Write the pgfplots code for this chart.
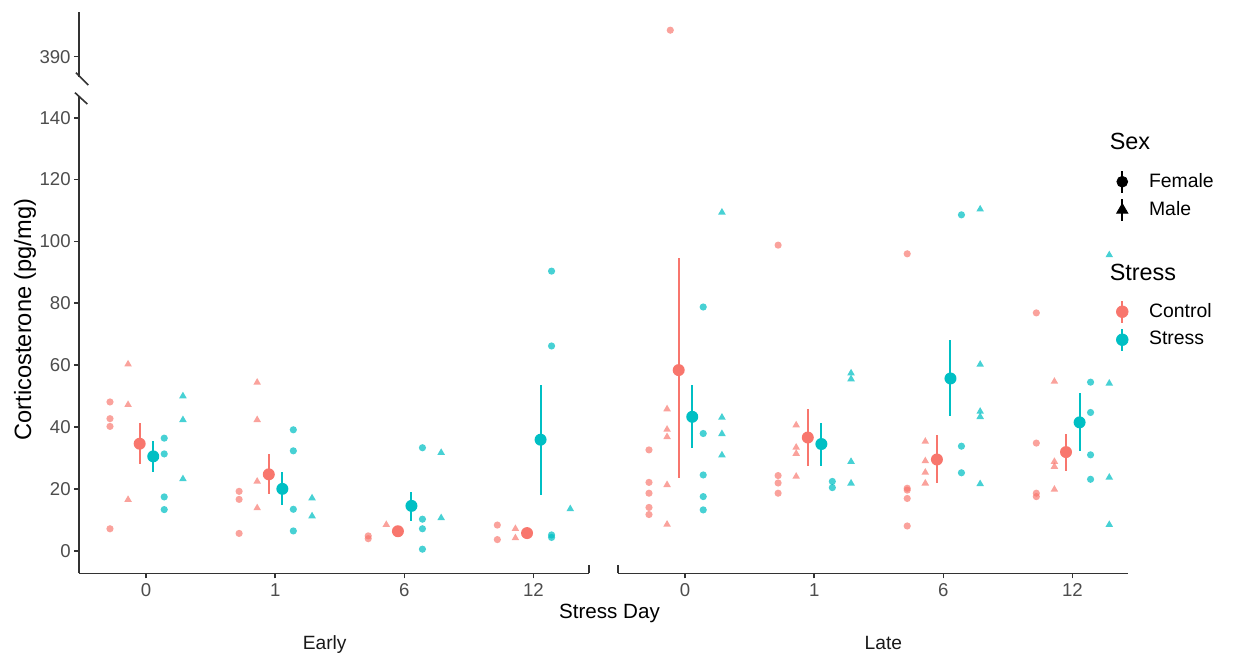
\documentclass[border=0pt]{standalone}
\usepackage{pgfplots}
\pgfplotsset{compat=1.18}
\usepackage{pgfplotstable}
\usepackage{fontspec}
\setmainfont{Liberation Sans}
\definecolor{ctrl}{HTML}{F8766D}
\definecolor{strs}{HTML}{00BFC4}
\definecolor{axgray}{HTML}{333333}
\definecolor{tickgray}{HTML}{4D4D4D}

% ---------- Early ----------
\pgfplotstableread{
x y
-0.28 48.1
-0.28 42.7
-0.28 40.2
-0.28 7.1
0.72 19.2
0.72 16.6
0.72 5.6
1.72 4.8
1.72 3.9
2.72 8.3
2.72 3.6
}\ECF
\pgfplotstableread{
x y
-0.14 60.3
-0.14 47.2
-0.14 16.5
0.86 54.4
0.86 42.3
0.86 22.4
0.86 13.8
1.86 8.4
2.86 7.1
2.86 4.1
}\ECM
\pgfplotstableread{
x y
0.14 36.4
0.14 31.3
0.14 17.4
0.14 13.3
1.14 39.1
1.14 32.3
1.14 13.4
1.14 6.4
2.14 33.3
2.14 10.2
2.14 7.1
2.14 0.5
3.14 90.4
3.14 66.2
3.14 5.1
3.14 4.3
}\ESF
\pgfplotstableread{
x y
0.285 50.0
0.285 42.3
0.285 23.2
1.285 17.0
1.285 11.2
2.285 31.7
2.285 10.6
3.285 13.5
}\ESM
\pgfplotstableread{
x y ep em
-0.05 34.6 6.6 6.5
0.95 24.7 6.6 6.3
1.95 6.3 0.8 0.8
2.95 5.7 0.7 0.7
}\ECmean
\pgfplotstableread{
x y ep em
0.055 30.5 4.9 4.9
1.055 20.0 5.4 5.1
2.055 14.5 4.6 4.8
3.055 35.9 17.6 17.9
}\ESmean

% ---------- Late ----------
\pgfplotstableread{
x y
-0.28 32.6
-0.28 22.1
-0.28 18.6
-0.28 14.0
-0.28 11.7
0.72 98.8
0.72 24.3
0.72 21.9
0.72 18.6
1.72 96.0
1.72 20.2
1.72 19.6
1.72 16.9
1.72 8.0
2.72 76.9
2.72 34.8
2.72 18.6
2.72 17.5
}\LCF
\pgfplotstableread{
x y
-0.115 398.6
}\LCFhigh
\pgfplotstableread{
x y
-0.14 45.8
-0.14 39.2
-0.14 36.8
-0.14 21.3
-0.14 8.5
0.86 40.6
0.86 33.4
0.86 31.4
0.86 24.0
1.86 35.3
1.86 29.0
1.86 25.3
1.86 21.8
2.86 54.7
2.86 28.8
2.86 27.2
2.86 19.8
}\LCM
\pgfplotstableread{
x y
0.14 78.8
0.14 37.9
0.14 24.5
0.14 17.5
0.14 13.2
1.14 22.4
1.14 20.4
2.14 108.6
2.14 33.8
2.14 25.2
3.14 54.5
3.14 44.7
3.14 31.0
3.14 23.1
}\LSF
\pgfplotstableread{
x y
0.285 109.4
0.285 43.1
0.285 37.8
0.285 30.9
1.285 57.4
1.285 55.5
1.285 28.8
1.285 21.8
2.285 110.4
2.285 60.2
2.285 45.0
2.285 43.3
2.285 21.6
3.285 95.6
3.285 54.1
3.285 23.7
3.285 8.4
}\LSM
\pgfplotstableread{
x y ep em
-0.05 58.4 36.1 34.9
0.95 36.6 9.1 9.3
1.95 29.5 7.8 7.6
2.95 31.9 5.9 6.0
}\LCmean
\pgfplotstableread{
x y ep em
0.055 43.3 10.2 10.1
1.055 34.5 6.8 7.0
2.055 55.7 12.3 12.3
3.055 41.5 9.6 9.3
}\LSmean

\pgfplotsset{
  base/.style={scale only axis, width=255pt, clip=false, xmin=-0.52, xmax=3.43,
    axis line style={axgray, line width=0.8pt},
    tick style={axgray, line width=0.8pt},
    tick align=outside, major tick length=2.5pt,
    ticklabel style={font=\fontsize{9.3}{11}\selectfont, text=tickgray},
    yticklabel style={inner sep=1.5pt},
    xticklabel style={inner sep=2.5pt},
    /pgf/number format/assume math mode=true,
    xtick={0,1,2,3}, xticklabels={0,1,6,12},
    legend cell align=left,
  },
  low/.style={height=238.15pt, ymin=-7.3, ymax=146.7},
  up/.style={height=32.5pt, ymin=383.4, ymax=404.5},
  indC/.style={only marks, forget plot, mark options={fill=ctrl, draw opacity=0, fill opacity=0.68}},
  indS/.style={only marks, forget plot, mark options={fill=strs, draw opacity=0, fill opacity=0.72}},
  fem/.style={mark=*, mark size=1.8pt},
  mal/.style={mark=triangle*, mark size=2.2pt},
  meanC/.style={only marks, forget plot, color=ctrl, mark=*, mark size=3pt,
    mark options={fill=ctrl, draw opacity=0},
    error bars/.cd, y dir=both, y explicit, error mark=none,
    error bar style={line width=1pt, ctrl}},
  meanS/.style={only marks, forget plot, color=strs, mark=*, mark size=3pt,
    mark options={fill=strs, draw opacity=0},
    error bars/.cd, y dir=both, y explicit, error mark=none,
    error bar style={line width=1pt, strs}},
  leg/.style={legend style={draw=none, fill=none, inner sep=0pt, outer sep=0pt,
    column sep=0pt, row sep=1.6pt, font=\fontsize{9.7}{11}\selectfont, anchor=north west}},
}

\begin{document}
\begin{tikzpicture}
\path[use as bounding box] (0,0) rectangle (616.5pt,327.5pt);

% Early, lower
\begin{axis}[base, low, leg, at={(39.5pt,40.85pt)}, anchor=south west,
  axis x line*=bottom, axis y line*=left, ytick={0,20,...,140},
  legend style={at={(2.026,0.8484)}}]
\addplot[indC, fem] table[x=x,y=y] {\ECF};
\addplot[indC, mal] table[x=x,y=y] {\ECM};
\addplot[indS, fem] table[x=x,y=y] {\ESF};
\addplot[indS, mal] table[x=x,y=y] {\ESM};
\addplot[meanC] table[x=x,y=y,y error plus=ep,y error minus=em] {\ECmean};
\addplot[meanS] table[x=x,y=y,y error plus=ep,y error minus=em] {\ESmean};
\addlegendimage{legend image code/.code={
  \path[draw=none, fill=none] (-5pt,-5.4pt) rectangle (11.4pt,5.4pt);
  \draw[black, line width=1pt] (0pt,-5.4pt) -- (0pt,5.4pt);
  \fill[black] (0pt,0pt) circle (2.7pt);}}
\addlegendentry{Female}
\addlegendimage{legend image code/.code={
  \path[draw=none, fill=none] (-5pt,-5.4pt) rectangle (11.4pt,5.4pt);
  \draw[black, line width=1pt] (0pt,-5.4pt) -- (0pt,5.4pt);
  \fill[black] (0pt,3.2pt) -- (-2.8pt,-1.6pt) -- (2.8pt,-1.6pt) -- cycle;}}
\addlegendentry{Male}
\end{axis}

% Early, upper
\begin{axis}[base, up, at={(39.5pt,289pt)}, anchor=south west,
  axis x line=none, axis y line*=left, ytick={390}]
\addplot[indC, fem, draw=none] coordinates {(-10,390)};
\end{axis}

% Late, lower
\begin{axis}[base, low, leg, at={(309pt,40.85pt)}, anchor=south west,
  axis y line=none, axis x line*=bottom,
  legend style={at={(0.9692,0.5755)}}]
\addplot[indC, fem] table[x=x,y=y] {\LCF};
\addplot[indC, mal] table[x=x,y=y] {\LCM};
\addplot[indS, fem] table[x=x,y=y] {\LSF};
\addplot[indS, mal] table[x=x,y=y] {\LSM};
\addplot[meanC] table[x=x,y=y,y error plus=ep,y error minus=em] {\LCmean};
\addplot[meanS] table[x=x,y=y,y error plus=ep,y error minus=em] {\LSmean};
\addlegendimage{legend image code/.code={
  \path[draw=none, fill=none] (-5pt,-5.4pt) rectangle (11.4pt,5.4pt);
  \draw[ctrl, line width=1pt] (0pt,-5.4pt) -- (0pt,5.4pt);
  \fill[ctrl] (0pt,0pt) circle (2.9pt);}}
\addlegendentry{Control}
\addlegendimage{legend image code/.code={
  \path[draw=none, fill=none] (-5pt,-5.4pt) rectangle (11.4pt,5.4pt);
  \draw[strs, line width=1pt] (0pt,-5.4pt) -- (0pt,5.4pt);
  \fill[strs] (0pt,0pt) circle (2.9pt);}}
\addlegendentry{Stress}
\end{axis}

% Late, upper
\begin{axis}[base, up, at={(309pt,289pt)}, anchor=south west, hide axis]
\addplot[indC, fem] table[x=x,y=y] {\LCFhigh};
\end{axis}

% axis break marks and panel end caps
\draw[axgray, line width=0.8pt] (38pt,291.15pt) -- (44.15pt,285pt);
\draw[axgray, line width=0.8pt] (37.5pt,281.15pt) -- (43.65pt,275.5pt);
\draw[axgray, line width=0.8pt] (294.5pt,40.85pt) -- (294.5pt,45pt);
\draw[axgray, line width=0.8pt] (309pt,40.85pt) -- (309pt,45pt);

% titles
\node[rotate=90, font=\fontsize{11.8}{13}\selectfont, inner sep=0pt] at (12.5pt,167.75pt) {Corticosterone (pg/mg)};
\node[anchor=base, font=\fontsize{10.3}{12}\selectfont, inner sep=0pt] at (304.75pt,18.5pt) {Stress Day};
\node[anchor=base, font=\fontsize{9.6}{11}\selectfont, inner sep=0pt, text=black!90] at (162.35pt,3pt) {Early};
\node[anchor=base, font=\fontsize{9.6}{11}\selectfont, inner sep=0pt, text=black!90] at (441.7pt,2.85pt) {Late};
\node[anchor=base west, font=\fontsize{11.7}{13}\selectfont, inner sep=0pt] at (554.7pt,252.5pt) {Sex};
\node[anchor=base west, font=\fontsize{11.7}{13}\selectfont, inner sep=0pt] at (554.7pt,187.5pt) {Stress};
\end{tikzpicture}
\end{document}
